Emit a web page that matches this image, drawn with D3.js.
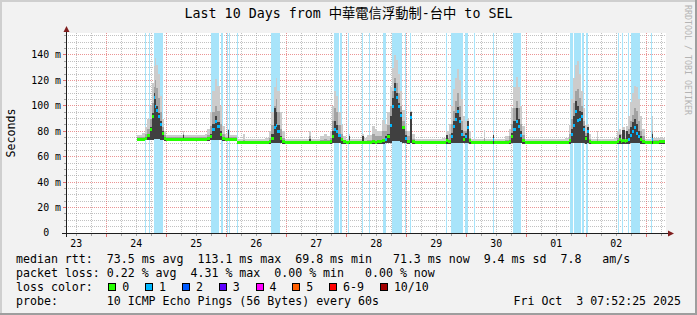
<!DOCTYPE html>
<html>
<head>
<meta charset="utf-8">
<script src="https://cdn.jsdelivr.net/npm/d3@7"></script>
<style>
html, body { margin: 0; padding: 0; background: #f2f2f2; }
svg { display: block; }
text { font-family: "DejaVu Sans Mono", "Noto Sans CJK TC", monospace; white-space: pre; }
</style>
</head>
<body>
<svg id="chart" width="697" height="315"></svg>
<script>
// time of each reading, hours after 2025-09-24 00:00
var hours = [12.4,14.4,15.4,16.4,17.4,18.2,18.9,19.4,20.0,20.6,21.4,22.2,23.0,23.9,30.6,31.1,
  39.4,40.4,41.4,42.4,43.4,44.4,45.4,46.4,47.4,48.6,49.1,52.4,54.8,55.3,
  63.4,64.9,65.9,66.9,67.7,68.4,69.4,70.4,71.4,81.2,81.7,85.4,86.9,88.4,
  89.4,90.4,91.2,92.0,92.8,93.7,94.7,95.7,97.1,97.6,102.4,103.0,104.4,106.4,107.4,108.4,
  110.4,111.4,112.4,113.4,114.2,115.0,115.8,116.6,117.4,118.4,119.4,120.4,121.5,122.2,123.4,
  134.4,135.9,136.5,136.9,137.7,138.6,139.4,140.2,141.0,141.8,142.6,143.4,144.2,145.0,145.9,
  151.1,151.6,154.7,155.2,159.4,160.9,161.9,162.8,163.7,164.6,165.5,166.4,167.4,
  183.4,184.9,185.7,186.5,187.3,188.1,188.9,189.7,190.5,191.3,192.1,192.9,193.9,196.3,196.8,
  202.9,204.4,204.9,205.7,206.4,207.4,208.0,208.8,209.6,210.4,211.2,212.0,212.8,213.6,214.4,215.4,
  218.2,218.8,220.9,223.6];
// median rtt (ms)
var median = [74,74.2,75,77,82,92,107,100,97,92,86,79,75,74,74,74,
  74,74.5,76,82,88,84,78,75,74,74,74,71.2,71.2,71.2,
  71.3,72,75,83,85,80,75,72,71.2,71.2,71.2,71.3,71.3,71.5,
  72,76,82,80,77,74,72,71.2,72,71.2,71.5,71.3,71.5,72,71.8,72,
  73,74,76,85,100,113,107,100,93,83,75,72.5,91,72,71.2,
  71.3,73,72,72,76,84,90,96,88,78,74,76,83,73,71.2,
  71.2,71.2,74,71.2,71.3,72,76,82,88,84,77,73,71.2,
  71.3,73,78,85,96,89,90,92,82,75,80,72,71.2,71.2,71.2,
  71.3,72,74,72,73,72.5,73,74,77,80,83,79,76,74,72,71.2,
  74,71.5,72.3,72.3];
// fastest ping (ms)
var pingMin = [72.5,72.6,72.8,73,73,73.5,74,74,74,74,73.5,73,72.5,72.5,72.5,72.5,
  72.5,72.6,72.8,73,73,73,73,72.5,72.5,72.5,72.5,69.7,69.7,69.7,
  69.7,70,70.5,71,71,71,70.5,70,69.7,69.7,69.7,69.7,69.7,69.7,
  70,70.5,71,71,70.5,70,69.8,69.7,69.8,69.7,69.8,69.7,69.8,70,70,70,
  70,70.5,71,71,72,72,72,72,71.5,71,70.5,70,71,70,69.7,
  69.7,70,70,70,70.5,71,71,71,71,70.5,70.5,70.5,71,70,69.7,
  69.7,69.7,70,69.7,69.7,70,70.5,71,71,71,70.5,70,69.7,
  69.7,70,70.5,71,71,71,71,71,70.5,70,70.5,70,69.7,69.7,69.7,
  69.7,70,70,70,70,70,70,70,70.5,71,71,71,70.5,70,70,69.7,
  70,69.8,70,70];
// slowest ping (ms)
var pingMax = [76.8,78.5,83,90,100,118,131,138,132,125,108,90,80,76.8,80,76.8,
  78,82,95,112,121,116,100,84,78,81.5,76.8,74,78,74,
  74.5,80,95,115,122,112,95,80,74,80.5,74,76,78,76,
  80,100,112,108,95,85,76,74,78,74,78,74.5,77,84,82,80,
  89,86,95,115,130,140,136,125,112,97,86,80,96,78,74,
  74.5,80,80,86,100,113,122,129,120,105,92,88,90,80,74,
  81,74,78,74,76,82,98,115,123,115,100,84,74,
  74.5,85,105,122,132,135,125,112,98,85,86,78,74,80,74,
  74.5,80,82,78,83,80,84,92,103,110,116,115,105,92,82,74,
  92,75,75,75];
// upper edge of the middle smoke band (ms)
var pingHigh = [75.3,75.8,78,82,90,102,115,120,114,106,95,83,77,75.3,77.5,75.3,
  75.5,77,84,95,100,96,86,78,75.5,79,75.3,72.5,73,72.5,
  72.6,75,85,100,105,95,82,75,72.5,76,72.5,73,74,73,
  75,88,98,95,85,78,73.5,72.5,75,72.5,74,72.5,73.5,78,76,76,
  80,80,85,100,112,122,118,110,100,88,80,76,93,74,72.5,
  72.6,76,75,78,86,96,104,110,100,88,80,80,86,75,72.5,
  75,72.5,76,72.5,73,76,86,98,104,98,86,77,72.5,
  72.6,78,90,102,112,113,106,100,88,79,83,74,72.5,74,72.5,
  72.6,75,78,74,79,75,79,82,88,93,98,96,88,80,76,72.5,
  80,73,73.5,73.5];
// upper edge of the dark smoke core (ms)
var pingCore = [74.7,74.9,75.5,78,83,94,110,105,100,94,88,80,75.5,74.7,77,74.7,
  74.8,75.2,78,86,92,87,80,75.5,74.8,81,74.7,71.9,72,71.9,
  71.9,72.5,78,98,95,85,76,72.5,71.9,74,71.9,72,72,72,
  72.5,80,88,85,78,75,72.3,71.9,76,71.9,76,71.9,72,72.5,72.5,72.5,
  74,76,78,92,106,118,110,102,95,84,77,73.5,95,72.5,71.9,
  72,77,72.5,73,79,88,94,99,91,81,76,79,88,73.5,71.9,
  72.5,71.9,77,71.9,72,72.5,79,88,98,90,80,74,71.9,
  72,74,82,92,104,100,96,95,84,76,83,72.5,71.9,72.3,71.9,
  72,72.5,77,72.5,81,72.5,80,78,83,87,90,86,80,76,72.5,71.9,
  78,72,72.8,72.8];
// lost pings out of 10 for each reading
var lossCount = [0,0,0,0,0,0,1,1,1,1,1,0,0,0,0,0,
  0,0,0,1,1,1,0,0,0,0,0,0,0,0,
  0,0,0,1,1,1,0,0,0,0,0,0,0,0,
  0,0,1,1,1,0,0,0,0,0,0,0,0,0,0,0,
  0,1,0,1,1,1,1,1,1,0,1,0,1,0,0,
  0,0,0,0,1,1,1,1,1,1,0,1,1,0,0,
  0,0,1,0,0,0,0,1,1,1,1,0,0,
  0,0,1,1,1,1,1,1,1,0,1,0,0,0,0,
  0,0,0,0,0,0,0,1,1,1,1,1,1,0,0,0,
  1,0,0,0];
// periods with packet loss [from, to], hours after 2025-09-24 00:00
var lossBars = [[15.5,15.9],[17.1,17.5],[19.1,22.6],[42.1,45.2],[46.0,46.6],[48.4,48.8],
  [49.4,49.8],[52.3,52.7],[66.2,69.7],[91.1,93.1],[93.5,94.4],[97.0,97.5],[102.6,103.1],
  [105.4,105.9],[110.8,112.0],[114.3,118.3],[119.7,120.2],[121.5,122.1],[135.9,136.4],
  [137.9,142.8],[143.7,145.0],[147.1,147.5],[154.9,155.2],[162.7,165.9],[185.5,186.8],
  [187.1,188.2],[188.6,190.2],[190.6,191.2],[191.9,192.6],[205.0,205.5],[206.6,207.1],
  [209.0,209.5],[209.9,213.5],[218.1,218.6]];

var dayLabels = ["23","24","25","26","27","28","29","30","01","02"];
var yTicks = [0,20,40,60,80,100,120,140];
var lossLabels = ["0","1","2","3","4","5","6-9","10/10"];
var lossColors = ["#26ff00","#00b8ff","#0059ff","#5e00ff","#ff00ff","#ff5e00","#ff0000","#a10000"];
var lossShade = "#a8e4fa";

var titleText = "Last 10 Days from 中華電信浮動制-台中 to SEL";
var legendLines = [
  "median rtt:  73.5 ms avg  113.1 ms max  69.8 ms min   71.3 ms now  9.4 ms sd  7.8   am/s",
  "packet loss: 0.22 % avg  4.31 % max  0.00 % min   0.00 % now",
  "loss color:",
  "probe:       10 ICMP Echo Pings (56 Bytes) every 60s"
];
var stampText = "Fri Oct  3 07:52:25 2025";

var svg = d3.select("#chart");
var X0 = 66, X1 = 666, YT = 33, YB = 233;
var tStart = new Date(2025, 8, 23, 7, 52, 25), tEnd = new Date(2025, 9, 3, 7, 52, 25);
var base = new Date(2025, 8, 24).getTime();
function hDate(h) { return new Date(base + h * 3600e3); }

var x = d3.scaleTime().domain([tStart, tEnd]).range([X0, X1]);
var y = d3.scaleLinear().domain([0, 157.3]).range([YB, YT]);
var px = function(v) { return Math.floor(v) + 0.5; };

// frame
svg.append("rect").attr("width", 697).attr("height", 315).attr("fill", "#f2f2f2");
svg.append("rect").attr("width", 697).attr("height", 2).attr("fill", "#cfcfcf");
svg.append("rect").attr("width", 2).attr("height", 315).attr("fill", "#cfcfcf");
svg.append("rect").attr("y", 313).attr("width", 697).attr("height", 2).attr("fill", "#9e9e9e");
svg.append("rect").attr("x", 695).attr("width", 2).attr("height", 315).attr("fill", "#9e9e9e");
svg.append("rect").attr("x", X0).attr("y", YT).attr("width", X1 - X0).attr("height", YB - YT).attr("fill", "#fff");

// grid
var grid = svg.append("g").attr("shape-rendering", "crispEdges").attr("stroke-dasharray", "1,1");
var minorY = d3.range(5, 157, 5).filter(function(v) { return v % 20 !== 0; });
var majorY = yTicks.filter(function(v) { return v > 0; });
grid.selectAll(".hm").data(minorY).enter().append("line")
  .attr("x1", X0).attr("x2", X1)
  .attr("y1", function(d) { return px(y(d)); }).attr("y2", function(d) { return px(y(d)); })
  .attr("stroke", "rgba(143,143,143,0.55)");
var hours6 = d3.timeHour.every(6).range(tStart, tEnd).filter(function(d) { return d.getHours() !== 0; });
var midnights = d3.timeDay.range(tStart, tEnd);
grid.selectAll(".vm").data(hours6).enter().append("line")
  .attr("x1", function(d) { return px(x(d)); }).attr("x2", function(d) { return px(x(d)); })
  .attr("y1", YT).attr("y2", YB)
  .attr("stroke", "rgba(143,143,143,0.55)");
grid.selectAll(".hM").data(majorY).enter().append("line")
  .attr("x1", X0).attr("x2", X1)
  .attr("y1", function(d) { return px(y(d)); }).attr("y2", function(d) { return px(y(d)); })
  .attr("stroke", "rgba(222,79,79,0.6)");
grid.selectAll(".vM").data(midnights).enter().append("line")
  .attr("x1", function(d) { return px(x(d)); }).attr("x2", function(d) { return px(x(d)); })
  .attr("y1", YT).attr("y2", YB)
  .attr("stroke", "rgba(222,79,79,0.6)");

// loss background
svg.append("g").attr("shape-rendering", "crispEdges").selectAll("rect").data(lossBars).enter().append("rect")
  .attr("x", function(d) { return Math.floor(x(hDate(d[0]))); })
  .attr("width", function(d) { return Math.max(1, Math.round(x(hDate(d[1])) - x(hDate(d[0])))); })
  .attr("y", YT).attr("height", YB - YT)
  .attr("fill", lossShade);

// smoke
var idx = d3.range(hours.length);
function band(lo, hi) {
  return d3.area().curve(d3.curveStepAfter)
    .x(function(i) { return x(hDate(hours[i])); })
    .y0(function(i) { return y(lo[i]); })
    .y1(function(i) { return y(hi[i]); });
}
var smoke = svg.append("g").attr("shape-rendering", "crispEdges");
smoke.append("path").attr("d", band(pingMin, pingMax)(idx)).attr("fill", "#cccccc");
smoke.append("path").attr("d", band(pingMin, pingHigh)(idx)).attr("fill", "#a2a2a2");
smoke.append("path").attr("d", band(pingMin, pingCore)(idx)).attr("fill", "#404040");

// median coloured by loss
svg.append("g").attr("shape-rendering", "crispEdges").selectAll("rect").data(idx.slice(0, -1)).enter().append("rect")
  .attr("x", function(i) { return x(hDate(hours[i])); })
  .attr("width", function(i) { return Math.max(1, x(hDate(hours[i + 1])) - x(hDate(hours[i]))); })
  .attr("y", function(i) { return Math.round(y(median[i])) - 1; })
  .attr("height", 3)
  .attr("fill", function(i) { return lossColors[Math.min(lossCount[i], 7)]; });

// axes
var ax = svg.append("g").attr("shape-rendering", "crispEdges");
ax.selectAll(".tm").data(hours6).enter().append("line")
  .attr("x1", function(d) { return px(x(d)); }).attr("x2", function(d) { return px(x(d)); })
  .attr("y1", YB).attr("y2", YB + 3).attr("stroke", "rgba(143,143,143,0.8)");
ax.selectAll(".tM").data(midnights).enter().append("line")
  .attr("x1", function(d) { return px(x(d)); }).attr("x2", function(d) { return px(x(d)); })
  .attr("y1", YB).attr("y2", YB + 4).attr("stroke", "rgba(222,79,79,0.8)");
ax.selectAll(".ym").data(minorY).enter().append("line")
  .attr("x1", X0 - 2).attr("x2", X0)
  .attr("y1", function(d) { return px(y(d)); }).attr("y2", function(d) { return px(y(d)); })
  .attr("stroke", "rgba(143,143,143,0.8)");
ax.selectAll(".yM").data(yTicks).enter().append("line")
  .attr("x1", X0 - 3).attr("x2", X0)
  .attr("y1", function(d) { return px(y(d)); }).attr("y2", function(d) { return px(y(d)); })
  .attr("stroke", "rgba(222,79,79,0.8)");
ax.append("line").attr("x1", X0 - 4).attr("x2", X1 + 4).attr("y1", YB + 0.5).attr("y2", YB + 0.5).attr("stroke", "#1f1f1f");
ax.append("line").attr("x1", X0 + 0.5).attr("x2", X0 + 0.5).attr("y1", YB + 4).attr("y2", YT - 4).attr("stroke", "#1f1f1f");
svg.append("path").attr("d", "M" + (X1 + 2) + "," + (YB - 2.5) + "L" + (X1 + 8) + "," + (YB + 0.5) + "L" + (X1 + 2) + "," + (YB + 3.5) + "Z").attr("fill", "#801f1f");
svg.append("path").attr("d", "M" + (X0 - 2.5) + "," + (YT - 1) + "L" + (X0 + 0.5) + "," + (YT - 7) + "L" + (X0 + 3.5) + "," + (YT - 1) + "Z").attr("fill", "#801f1f");

// axis labels
svg.selectAll(".xl").data(dayLabels).enter().append("text")
  .attr("x", function(d, i) { return x(new Date(2025, 8, 23 + i, 12)); })
  .attr("y", 246.5).attr("text-anchor", "middle").attr("font-size", "9.9px")
  .text(function(d) { return d; });
svg.selectAll(".yl").data(yTicks).enter().append("text")
  .attr("x", 61).attr("y", function(d) { return y(d) + 3.4; })
  .attr("text-anchor", "end").attr("font-size", "9.9px")
  .text(function(d) { return d === 0 ? "0  " : d + " m"; });
svg.append("text").attr("transform", "translate(15,133) rotate(-90)")
  .attr("text-anchor", "middle").attr("font-size", "11.6px").text("Seconds");

// title and watermark
svg.append("text").attr("x", 348.5).attr("y", 18.3).attr("text-anchor", "middle")
  .attr("font-size", "13.3px").text(titleText);
svg.append("text").attr("transform", "translate(685,5) rotate(90)")
  .attr("font-size", "8.3px").attr("fill", "#b4b4b4").text("RRDTOOL / TOBI OETIKER");

// legend
legendLines.forEach(function(t, i) {
  svg.append("text").attr("x", 16).attr("y", 263 + i * 14).attr("font-size", "11.6px").text(t);
});
var lx = 108.3;
lossLabels.forEach(function(lab, i) {
  svg.append("rect").attr("x", Math.round(lx) + 0.5).attr("y", 283.5).attr("width", 7).attr("height", 7)
    .attr("fill", lossColors[i]).attr("stroke", "#000").attr("shape-rendering", "crispEdges");
  svg.append("text").attr("x", lx + 14).attr("y", 291).attr("font-size", "11.6px").text(lab);
  lx = lx + 14 + lab.length * 7 + 15.8;
});
svg.append("text").attr("x", 681).attr("y", 305).attr("text-anchor", "end").attr("font-size", "11.6px").text(stampText);
</script>
</body>
</html>
